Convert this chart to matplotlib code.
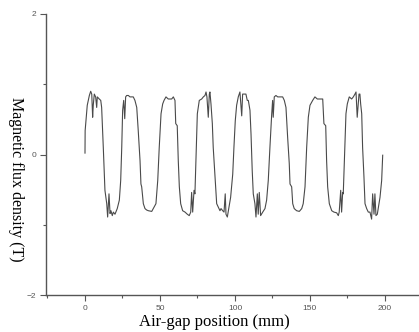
import matplotlib
matplotlib.use("Agg")
import matplotlib.pyplot as plt
from matplotlib.ticker import MultipleLocator

# Air-gap position (mm)
pos_mm = [0.0, 0.1, 1.5, 2.9, 3.8, 4.5, 5.1, 5.5, 6.2, 7.1, 7.8, 8.2, 9.5, 10.5, 11.1,
          12.2, 13.3, 14.5, 15.1, 16.0, 16.7, 17.3, 18.2, 18.9, 20.0, 21.5, 22.9, 23.8,
          24.5, 25.1, 25.8, 26.5, 27.1, 27.8, 28.9, 30.0, 32.2, 33.3, 34.5, 35.5, 36.7,
          37.3, 37.8, 38.9, 40.0, 41.1, 42.2, 44.5, 45.5, 47.3, 48.5, 49.5, 50.7, 51.8,
          52.7, 54.0, 55.5, 57.8, 58.9, 60.0, 60.5, 61.5, 62.2, 62.9, 63.8, 65.1, 66.7,
          68.2, 69.5, 70.5, 71.1, 71.8, 72.7, 73.3, 74.0, 74.9, 76.2, 77.8, 78.9, 80.0,
          80.7, 81.3, 82.2, 82.9, 83.3, 84.0, 84.9, 85.5, 86.7, 87.8, 88.9, 90.0, 90.7,
          91.8, 92.7, 93.5, 94.0, 94.9, 96.0, 97.1, 98.5, 99.3, 100.2, 101.1, 102.2,
          103.3, 104.5, 105.1, 106.2, 107.3, 108.2, 108.9, 110.0, 110.7, 111.5, 112.2,
          113.3, 114.0, 114.9, 115.5, 116.2, 117.1, 118.5, 120.0, 121.1, 122.2, 123.3,
          124.5, 125.1, 125.5, 126.2, 127.3, 128.5, 130.0, 131.8, 132.9, 134.0, 135.1,
          136.2, 136.7, 137.8, 138.5, 139.5, 141.1, 142.9, 144.5, 145.5, 146.7, 147.8,
          148.9, 150.0, 151.8, 153.3, 154.9, 156.2, 158.5, 159.3, 160.5, 161.1, 161.8,
          162.9, 164.5, 166.0, 167.8, 168.9, 169.5, 170.5, 171.1, 171.8, 172.2, 172.9,
          174.0, 174.9, 176.2, 177.8, 178.9, 180.0, 180.7, 181.1, 181.5, 182.7, 183.3,
          183.8, 184.5, 185.1, 186.0, 186.7, 187.8, 188.9, 190.0, 191.1, 191.8, 192.7,
          193.3, 194.0, 194.9, 195.5, 196.7, 197.8, 198.5]

# Magnetic flux density (T)
flux_T = [0.02, 0.34, 0.70, 0.84, 0.90, 0.86, 0.53, 0.70, 0.86, 0.82, 0.67, 0.82, 0.79,
          0.77, 0.67, 0.10, -0.51, -0.70, -0.89, -0.56, -0.84, -0.80, -0.87, -0.82, -0.85,
          -0.77, -0.65, -0.37, 0.10, 0.63, 0.77, 0.51, 0.82, 0.84, 0.84, 0.82, 0.82, 0.77,
          0.67, 0.34, -0.09, -0.42, -0.46, -0.70, -0.77, -0.79, -0.80, -0.81, -0.77, -0.70,
          -0.37, 0.10, 0.58, 0.72, 0.77, 0.82, 0.79, 0.79, 0.82, 0.77, 0.44, 0.41, -0.09,
          -0.46, -0.70, -0.80, -0.82, -0.85, -0.87, -0.82, -0.54, -0.82, -0.51, -0.56,
          -0.04, 0.58, 0.77, 0.79, 0.82, 0.84, 0.89, 0.82, 0.53, 0.86, 0.89, 0.72, 0.44,
          0.10, -0.32, -0.70, -0.75, -0.80, -0.77, -0.80, -0.82, -0.56, -0.85, -0.89,
          -0.75, -0.61, -0.28, 0.10, 0.48, 0.70, 0.82, 0.89, 0.55, 0.86, 0.86, 0.86, 0.77,
          0.77, 0.63, 0.29, -0.23, -0.56, -0.70, -0.89, -0.56, -0.85, -0.54, -0.87, -0.82,
          -0.77, -0.65, -0.37, 0.10, 0.58, 0.77, 0.53, 0.82, 0.84, 0.82, 0.82, 0.82, 0.77,
          0.67, 0.25, -0.13, -0.42, -0.46, -0.70, -0.77, -0.80, -0.81, -0.77, -0.70, -0.46,
          0.10, 0.53, 0.70, 0.77, 0.82, 0.79, 0.79, 0.79, 0.44, 0.41, -0.09, -0.46, -0.70,
          -0.80, -0.82, -0.83, -0.87, -0.82, -0.51, -0.82, -0.54, -0.56, -0.13, 0.58, 0.72,
          0.82, 0.79, 0.82, 0.86, 0.89, 0.70, 0.53, 0.86, 0.86, 0.72, 0.58, 0.10, -0.32,
          -0.70, -0.77, -0.82, -0.82, -0.92, -0.56, -0.85, -0.56, -0.87, -0.85, -0.77,
          -0.61, -0.37, -0.01]

x_ticks = [0, 50, 100, 150, 200]
y_ticks = [-2, 0, 2]

fig = plt.figure(figsize=(4.19, 3.32), dpi=100)
ax = fig.add_axes([46 / 419, 37 / 332, 373 / 419, 281 / 332])

ax.plot(pos_mm, flux_T, color="#4a4a4a", lw=0.8)

ax.set_xlim(-26, 222.7)
ax.set_ylim(-2, 2)
ax.set_xticks(x_ticks)
ax.set_yticks(y_ticks)
ax.xaxis.set_minor_locator(MultipleLocator(25))
ax.yaxis.set_minor_locator(MultipleLocator(1))

for side in ["top", "right"]:
    ax.spines[side].set_visible(False)
for side in ["left", "bottom"]:
    ax.spines[side].set_color("#555555")
    ax.spines[side].set_linewidth(1.0)

ax.tick_params(which="major", direction="out", length=4, width=0.8,
               colors="#555555", labelsize=6, pad=3)
ax.tick_params(which="minor", direction="out", length=2.5, width=0.8, colors="#555555")
for lab in ax.get_xticklabels() + ax.get_yticklabels():
    lab.set_fontfamily("Liberation Sans")

ax.set_xlabel("Air-gap position (mm)", family="Liberation Serif", fontsize=12)
ax.set_ylabel("Magnetic flux density (T)", family="Liberation Serif", fontsize=11.5,
              rotation=270, va="center", ha="center")
ax.xaxis.set_label_coords((214 - 46) / 373, -0.068)
ax.yaxis.set_label_coords((16 - 46) / 373, (295 - 179) / 281)

fig.savefig("out.png", dpi=100)
